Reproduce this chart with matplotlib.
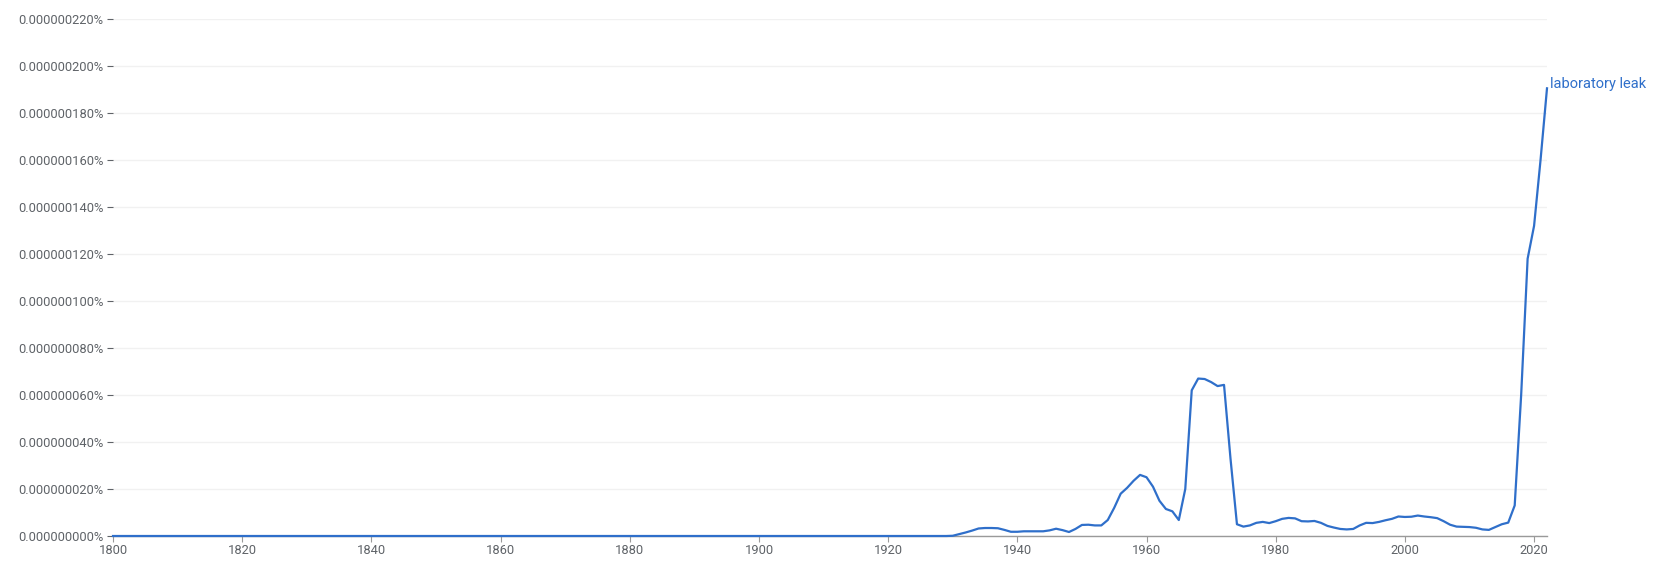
import matplotlib.pyplot as plt
from matplotlib.ticker import FuncFormatter

plt.rcParams['font.family'] = ['Roboto', 'DejaVu Sans']

# yearly frequency, in units of 1e-9 percent (0.000000001%)
years = list(range(1800, 2023))
zero_years = 1930 - 1800
values = [0.0] * zero_years + [
    0.1, 0.8, 1.5, 2.3, 3.2, 3.4, 3.4, 3.3, 2.6, 1.8,          # 1930-1939
    1.8, 2.0, 2.0, 2.0, 2.0, 2.4, 3.1, 2.5, 1.7, 3.0,          # 1940-1949
    4.7, 4.8, 4.5, 4.5, 6.8, 12.0, 18.0, 20.5, 23.5, 26.0,     # 1950-1959
    25.0, 21.0, 15.0, 11.5, 10.5, 6.8, 20.0, 62.0, 67.0, 66.8,  # 1960-1969
    65.5, 63.8, 64.3, 33.0, 5.0, 4.0, 4.5, 5.6, 6.0, 5.5,      # 1970-1979
    6.3, 7.3, 7.7, 7.5, 6.3, 6.2, 6.4, 5.6, 4.3, 3.6,          # 1980-1989
    3.0, 2.8, 3.0, 4.5, 5.6, 5.5, 6.0, 6.7, 7.3, 8.3,          # 1990-1999
    8.1, 8.2, 8.7, 8.3, 8.0, 7.6, 6.3, 4.8, 4.0, 3.9,          # 2000-2009
    3.8, 3.5, 2.8, 2.6, 3.8, 5.0, 5.7, 13.0, 60.0, 118.0,      # 2010-2019
    132.0, 160.0, 190.5,                                       # 2020-2022
]
series_name = 'laboratory leak'
y_ticks = list(range(0, 221, 20))
x_ticks = list(range(1800, 2021, 20))

blue = '#2f6fca'
grey = '#5f6368'

fig = plt.figure(figsize=(16.56, 5.63), dpi=100)
ax = fig.add_axes([113 / 1656, 27 / 563, (1547 - 113) / 1656, (536 - 19) / 563])

ax.plot(years, values, color=blue, lw=1.6, solid_joinstyle='round', zorder=3, clip_on=False)
ax.annotate(series_name, xy=(years[-1], values[-1]), xytext=(3, 4),
            textcoords='offset pixels', color=blue, fontsize=10.5,
            va='center', ha='left', annotation_clip=False)

ax.set_xlim(1800, 2022)
ax.set_ylim(0, 220)
ax.set_xticks(x_ticks)
ax.set_yticks(y_ticks)
ax.yaxis.set_major_formatter(FuncFormatter(lambda v, p: f"{v / 1e9:.9f}%"))

ax.grid(axis='y', color='#f1f1f1', lw=1)
ax.set_axisbelow(True)
for side in ['top', 'right', 'left']:
    ax.spines[side].set_visible(False)
ax.spines['bottom'].set_color('#9a9a9a')
ax.spines['bottom'].set_linewidth(1)

ax.tick_params(axis='y', length=4.5, width=0.8, color=grey, labelcolor=grey,
               labelsize=9.3, pad=2.5)
ax.tick_params(axis='x', length=4, width=0.8, color='#9a9a9a', labelcolor=grey,
               labelsize=9.3, pad=1.5)

fig.savefig('out.png', dpi=100, facecolor='white')
